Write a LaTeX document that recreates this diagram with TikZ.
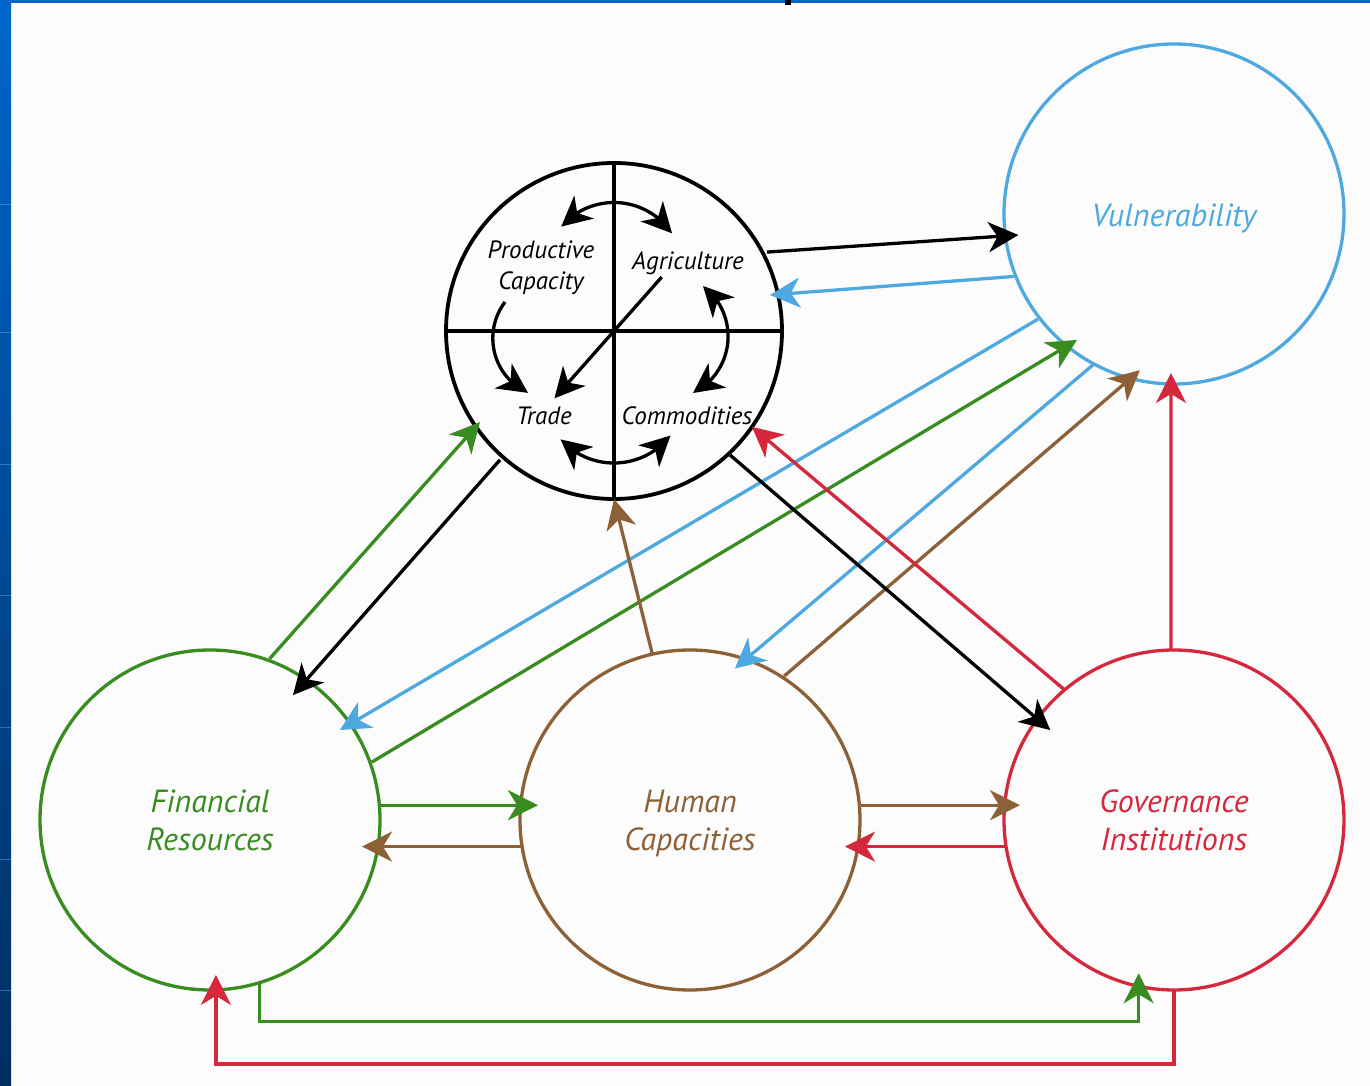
\documentclass[tikz,border=0pt]{standalone}
\usepackage{fontspec}
\setmainfont{PT Sans}
\usetikzlibrary{arrows.meta,bending}
\definecolor{vblue}{RGB}{78,169,224}
\definecolor{fgreen}{RGB}{56,140,32}
\definecolor{hbrown}{RGB}{141,96,56}
\definecolor{gred}{RGB}{214,40,60}
\definecolor{slideblue}{RGB}{0,102,204}
\definecolor{slidedark}{RGB}{0,46,96}
\tikzset{
  ring/.style={circle, draw, line width=3.3pt, minimum size=340pt, inner sep=0pt, outer sep=0pt,
    align=center, font=\fontsize{32}{38}\selectfont\itshape},
  hub/.style={circle, draw=black, line width=3.8pt, minimum size=336pt, inner sep=0pt, outer sep=0pt},
  link/.style={line width=3.3pt, ->},
  dlink/.style={line width=3.3pt, <->},
  lab/.style={font=\fontsize{25}{31}\selectfont\itshape, align=center, inner sep=0pt}
}
\begin{document}
\begin{tikzpicture}[x=1pt,y=1pt,>={Stealth[length=30pt,width=30pt,inset=9pt]}]
\useasboundingbox (0,0) rectangle (1370,1086);
\fill[white!99!black] (0,0) rectangle (1370,1086);
% slide frame
\shade[top color=slideblue, bottom color=slidedark] (0,0) rectangle (11,1086);
\fill[slideblue] (0,1083) rectangle (1370,1086);
\fill[black] (785,1081) rectangle (791,1086);
\foreach \yy in {882,754,622,491,359,227,96}
  \draw[slideblue!70!white, line width=0.8pt, opacity=0.6] (0,\yy) -- (11,\yy);

% circles
\node[hub] (tpc) at (614,755) {};
\node[ring, draw=vblue, text=vblue] (v) at (1174,872) {\raisebox{-4pt}[\height][\depth]{Vulnerability}};
\node[ring, draw=fgreen, text=fgreen] (fr) at (210,266) {Financial\\Resources};
\node[ring, draw=hbrown, text=hbrown] (hc) at (690,266) {Human\\\raisebox{0pt}[\height][0pt]{Capacities}};
\node[ring, draw=gred, text=gred] (gi) at (1174,266) {Governance\\Institutions};

% inside the hub
\draw[line width=3.3pt] (tpc.west) -- (tpc.east);
\draw[line width=3.3pt] (tpc.north) -- (tpc.south);
\node[lab] (pc) at (541,818) {Productive\\Capacity};
\node[lab] (ag) at (688,823) {Agriculture};
\node[lab] (tr) at (544,670) {Trade};
\node[lab] (co) at (687,670) {Commodities};
\draw[link] ([shift={(48.5:72)}]tpc.center) -- ([shift={(228.5:90)}]tpc.center);
\draw[dlink] ([shift={(-52.8,104.4)}]tpc.center) arc[start angle=139, end angle=34, radius=70];
\draw[link] ([shift={(-109,29)}]tpc.center) arc[start angle=142.8, end angle=245.6, radius=60];
\draw[dlink] ([shift={(89,45)}]tpc.center) arc[start angle=52.9, end angle=-63.6, radius=63.2];
\draw[dlink] ([shift={(-53.4,-108.4)}]tpc.center) arc[start angle=222.2, end angle=321.8, radius=72];

% hub <-> vulnerability
\draw[link, black] ([shift={(27.3:172)}]tpc.center) -- ([shift={(187.7:157)}]v.center);
\draw[link, vblue] ([shift={(201.3:172)}]v.center) -- ([shift={(13:160)}]tpc.center);
% hub <-> financial
\draw[link, fgreen] ([shift={(69.7:172)}]fr.center) -- ([shift={(214.2:162)}]tpc.center);
\draw[link, black] ([shift={(228.5:172)}]tpc.center) -- ([shift={(56.4:150)}]fr.center);
% vulnerability <-> financial
\draw[link, vblue] ([shift={(217.7:172)}]v.center) -- ([shift={(34.7:158)}]fr.center);
\draw[link, fgreen] ([shift={(19.7:172)}]fr.center) -- ([shift={(232.4:159)}]v.center);
% vulnerability <-> human
\draw[link, vblue] ([shift={(241.8:171)}]v.center) -- ([shift={(73.5:158)}]hc.center);
\draw[link, hbrown] ([shift={(56.8:172)}]hc.center) -- ([shift={(257.7:160)}]v.center);
% governance <-> hub
\draw[link, gred] ([shift={(130.1:171)}]gi.center) -- ([shift={(325.2:168)}]tpc.center);
\draw[link, black] ([shift={(313.1:170)}]tpc.center) -- ([shift={(144:153)}]gi.center);
% governance -> vulnerability
\draw[link, gred] ([shift={(91:170)}]gi.center) -- ([shift={(268.9:159)}]v.center);
% human -> hub
\draw[link, hbrown] ([shift={(102.8:171)}]hc.center) -- (tpc.south);
% horizontal links
\draw[link, fgreen, shorten >=-18pt] (fr.5) -- (fr.5 -| hc.west);
\draw[link, hbrown, shorten >=-18pt] (hc.189) -- (hc.189 -| fr.east);
\draw[link, hbrown, shorten >=-16pt] (hc.5) -- (hc.5 -| gi.west);
\draw[link, gred, shorten >=-15pt] (gi.189) -- (gi.189 -| hc.east);
% bottom loops
\draw[link, fgreen, shorten >=-13pt] (fr.287) -- ++(0,-39) -| (gi.258);
\draw[link, gred, shorten >=-15pt] (gi.south) -- ++(0,-74) -| (fr.272);
\end{tikzpicture}
\end{document}
